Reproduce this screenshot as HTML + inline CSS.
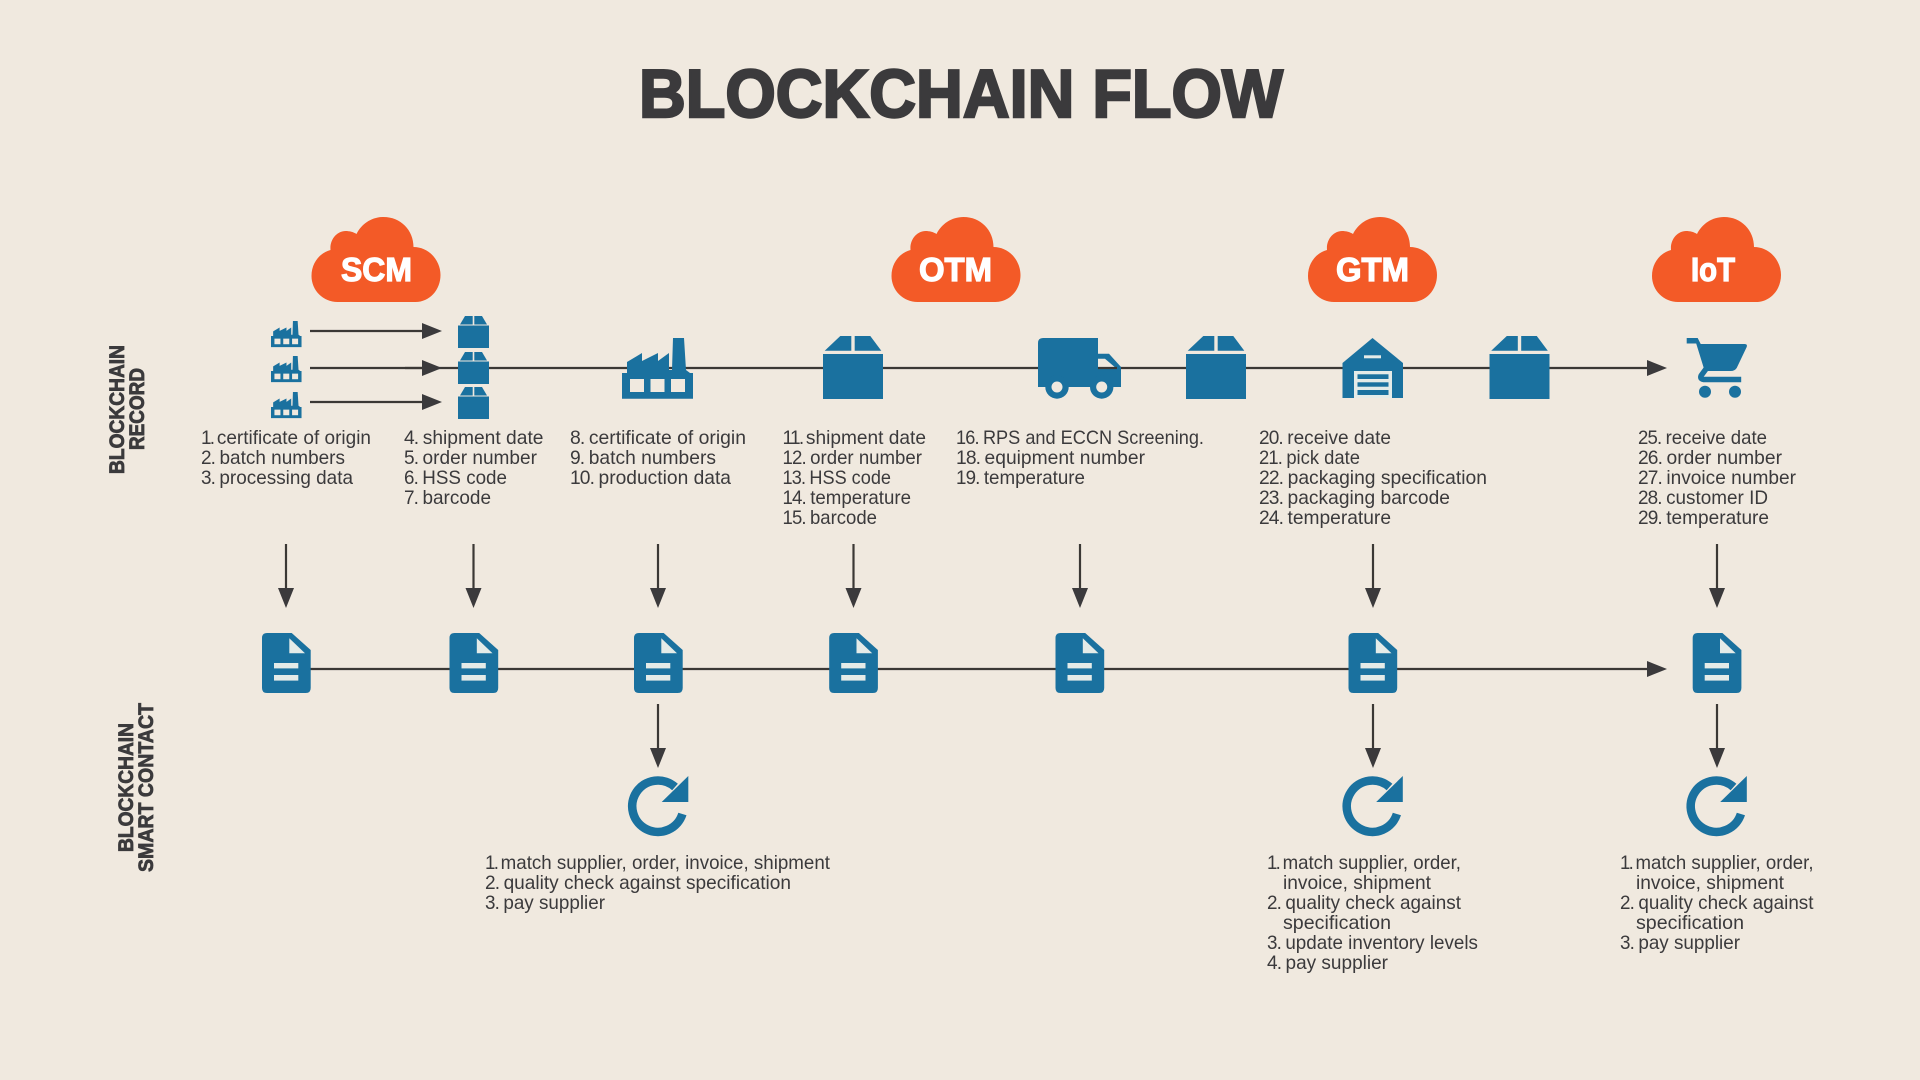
<!DOCTYPE html>
<html lang="en">
<head>
<meta charset="utf-8">
<title>Blockchain Flow</title>
<style>
html,body{margin:0;padding:0;background:#f0e9df;width:1920px;height:1080px;overflow:hidden}
svg{display:block}
text{font-family:"Liberation Sans",sans-serif}
.t text{font-size:19.5px;fill:#3b3a3c}
.n{letter-spacing:-.9px}
.o{letter-spacing:-1.8px}
.b{font-weight:700;fill:#3b3a3c;stroke:#3b3a3c}
.c{font-weight:700;font-size:33px;fill:#fff;stroke:#fff;stroke-width:1.2}
.ln{stroke:#3b3835;stroke-width:2.2;fill:none}
.ah{fill:#3b3a3c}
</style>
</head>
<body>
<svg xmlns="http://www.w3.org/2000/svg" width="1920" height="1080" viewBox="0 0 1920 1080">
<defs>
<path id="cloud" fill="#f35a27" d="M26,85 A26,26 0 0 1 0,59 C0,46 8,36 19,33 C18,22 26,14 34,14 C38,14 42,15 45,17 C50,7 60,0 72,0 C89,0 102,13 102,30 C118,30 129,44 129,58 C129,73 118,85 104,85 Z"/>
<g id="box" fill="#1a719f">
  <polygon points="1.7,14.7 17.3,0 28.3,0 28.3,14.7"/>
  <polygon points="31.7,14.7 31.7,0 47.3,0 58.3,14.7"/>
  <rect x="0" y="18" width="60" height="45"/>
</g>
<g id="sbox" fill="#1a719f">
  <polygon points="2,8.5 7,0 14.7,0 14.7,8.5"/>
  <polygon points="16.3,8.5 16.3,0 24,0 29,8.5"/>
  <rect x="0" y="9.5" width="31" height="22.5"/>
</g>
<g id="factory">
  <path fill="#1a719f" d="M0,35 L5,35 L5,24 L20,15 L20,23 L36,15 L36,23 L47,15 L47,32 L50,32 L51,0 L62,0 L64,32 L68,35 L71,35 L71,60.7 L0,60.7Z"/>
  <g fill="#f0e9df"><rect x="8" y="41" width="14" height="13"/><rect x="28.5" y="41" width="14" height="13"/><rect x="49" y="41" width="14" height="13"/></g>
</g>
<g id="doc">
  <path fill="#1a719f" d="M5,0 L29.7,0 L48.7,17 L48.7,55 Q48.7,60 43.7,60 L5,60 Q0,60 0,55 L0,5 Q0,0 5,0Z"/>
  <polygon fill="#e4ebe8" points="27.3,5.3 27.3,20.3 43,20.3"/>
  <rect fill="#e4ebe8" x="12" y="30" width="24.3" height="5.4"/>
  <rect fill="#e4ebe8" x="12" y="42" width="24.3" height="5.6"/>
</g>
<g id="refresh">
  <path fill="none" stroke="#1a719f" stroke-width="8.6" d="M47,11 A25.7,25.7 0 1 0 54.4,38"/>
  <path fill="#1a719f" d="M60.3,0 L60.3,26 L33.7,26Z"/>
</g>
<g id="va"><line class="ln" x1="0" y1="0" x2="0" y2="46"/><polygon class="ah" points="-8,44 8,44 0,64"/></g>
<g id="ha"><polygon class="ah" points="0,-8 20,0 0,8"/></g>
</defs>

<rect width="1920" height="1080" fill="#f0e9df"/>

<text class="b" x="639" y="117" font-size="68" stroke-width="2.4" textLength="644" lengthAdjust="spacingAndGlyphs">BLOCKCHAIN FLOW</text>

<!-- side labels -->
<g class="b" font-size="21.5" stroke-width=".8">
  <text transform="translate(124,474) rotate(-90)" textLength="129" lengthAdjust="spacingAndGlyphs">BLOCKCHAIN</text>
  <text transform="translate(144,450) rotate(-90)" textLength="82" lengthAdjust="spacingAndGlyphs">RECORD</text>
  <text transform="translate(133,852) rotate(-90)" textLength="129" lengthAdjust="spacingAndGlyphs">BLOCKCHAIN</text>
  <text transform="translate(153,872) rotate(-90)" textLength="169" lengthAdjust="spacingAndGlyphs">SMART CONTACT</text>
</g>

<!-- clouds -->
<use href="#cloud" x="311.5" y="217"/>
<use href="#cloud" x="891.5" y="217"/>
<use href="#cloud" x="1308" y="217"/>
<use href="#cloud" x="1652" y="217"/>
<text class="c" x="341" y="281" textLength="71" lengthAdjust="spacingAndGlyphs">SCM</text>
<text class="c" x="919" y="281" textLength="73" lengthAdjust="spacingAndGlyphs">OTM</text>
<text class="c" x="1336" y="281" textLength="73" lengthAdjust="spacingAndGlyphs">GTM</text>
<text class="c" x="1691" y="281" textLength="44" lengthAdjust="spacingAndGlyphs">IoT</text>

<!-- lines -->
<line class="ln" x1="310" y1="331" x2="424" y2="331"/>
<line class="ln" x1="310" y1="368" x2="424" y2="368"/>
<line class="ln" x1="310" y1="402" x2="424" y2="402"/>
<use href="#ha" x="422" y="331"/>
<use href="#ha" x="422" y="402"/>
<line class="ln" x1="405" y1="368" x2="1650" y2="368"/>
<use href="#ha" x="422" y="368"/>
<use href="#ha" x="1647" y="368"/>
<line class="ln" x1="286" y1="669" x2="1650" y2="669"/>
<use href="#ha" x="1647" y="669"/>

<!-- small factories -->
<use href="#factory" transform="translate(271,321) scale(.43)"/>
<use href="#factory" transform="translate(271,356) scale(.43)"/>
<use href="#factory" transform="translate(271,392) scale(.43)"/>
<!-- small boxes -->
<use href="#sbox" x="458" y="316"/>
<use href="#sbox" x="458" y="352"/>
<use href="#sbox" x="458" y="387"/>
<!-- big icons -->
<use href="#factory" x="622" y="338"/>
<use href="#box" x="823" y="336"/>
<use href="#box" x="1186" y="336"/>
<use href="#box" x="1489.5" y="336"/>

<!-- truck -->
<g transform="translate(1038,338)">
  <path fill="#1a719f" d="M5,0 L60,0 L60,15.7 L71,15.7 L83,29 L83,49 L0,49 L0,5 Q0,0 5,0Z"/>
  <path fill="#f0e9df" d="M60,20.7 L67,20.7 L76.7,29 L60,29Z"/>
  <line class="ln" x1="60" y1="30" x2="79" y2="30"/>
  <circle cx="19" cy="49" r="11.7" fill="#1a719f"/><circle cx="19" cy="49" r="5.5" fill="#f0e9df"/>
  <circle cx="63.7" cy="49" r="11.7" fill="#1a719f"/><circle cx="63.7" cy="49" r="5.5" fill="#f0e9df"/>
</g>

<!-- warehouse -->
<g transform="translate(1342.5,338)">
  <polygon fill="#1a719f" points="30,0 60.5,25 60.5,60 0,60 0,25"/>
  <rect x="11.5" y="33" width="38" height="27" fill="#e4ebe8"/>
  <g fill="#1a719f"><rect x="15" y="36.3" width="31" height="4.7"/><rect x="15" y="44.3" width="31" height="4.4"/><rect x="15" y="52" width="31" height="5"/></g>
  <rect x="21.5" y="17.3" width="17" height="3" fill="#e4ebe8"/>
</g>

<!-- cart -->
<g transform="translate(1686.7,338)">
  <path fill="#1a719f" d="M0,0 L11,0 L14,6 L58,6 Q61,6 60,9 L50,30 Q48,33 44,33 L18,33 L9.5,5.5 L0,5.5Z"/>
  <path fill="none" stroke="#1a719f" stroke-width="5.5" d="M20,30 L14.5,37.5 Q13,41 17,41.5 L54.5,41.5"/>
  <circle cx="18.3" cy="53.7" r="6" fill="#1a719f"/><circle cx="48.3" cy="53.7" r="6" fill="#1a719f"/>
</g>

<!-- vertical arrows top -->
<use href="#va" x="286" y="544"/>
<use href="#va" x="473.5" y="544"/>
<use href="#va" x="658" y="544"/>
<use href="#va" x="853.5" y="544"/>
<use href="#va" x="1080" y="544"/>
<use href="#va" x="1373" y="544"/>
<use href="#va" x="1717" y="544"/>

<!-- documents -->
<use href="#doc" x="262" y="633"/>
<use href="#doc" x="449.5" y="633"/>
<use href="#doc" x="634" y="633"/>
<use href="#doc" x="829.2" y="633"/>
<use href="#doc" x="1055.5" y="633"/>
<use href="#doc" x="1348.5" y="633"/>
<use href="#doc" x="1692.7" y="633"/>

<!-- lower arrows -->
<use href="#va" x="658" y="704"/>
<use href="#va" x="1373" y="704"/>
<use href="#va" x="1717" y="704"/>

<!-- refresh -->
<use href="#refresh" x="628" y="776"/>
<use href="#refresh" x="1342.5" y="776"/>
<use href="#refresh" x="1686.5" y="776"/>

<!-- text blocks -->
<g class="t">
  <text x="201" y="444" textLength="170" lengthAdjust="spacingAndGlyphs"><tspan class="o">1. </tspan>certificate of origin</text>
  <text x="201" y="464" textLength="144" lengthAdjust="spacingAndGlyphs"><tspan class="n">2. </tspan>batch numbers</text>
  <text x="201" y="484" textLength="152" lengthAdjust="spacingAndGlyphs"><tspan class="n">3. </tspan>processing data</text>

  <text x="404" y="444" textLength="139.5" lengthAdjust="spacingAndGlyphs"><tspan class="n">4. </tspan>shipment date</text>
  <text x="404" y="464" textLength="133" lengthAdjust="spacingAndGlyphs"><tspan class="n">5. </tspan>order number</text>
  <text x="404" y="484" textLength="103" lengthAdjust="spacingAndGlyphs"><tspan class="n">6. </tspan>HSS code</text>
  <text x="404" y="504" textLength="87" lengthAdjust="spacingAndGlyphs"><tspan class="n">7. </tspan>barcode</text>

  <text x="570" y="444" textLength="176" lengthAdjust="spacingAndGlyphs"><tspan class="n">8. </tspan>certificate of origin</text>
  <text x="570" y="464" textLength="146" lengthAdjust="spacingAndGlyphs"><tspan class="n">9. </tspan>batch numbers</text>
  <text x="570" y="484" textLength="161" lengthAdjust="spacingAndGlyphs"><tspan class="n">10. </tspan>production data</text>

  <text x="782.5" y="444" textLength="143.5" lengthAdjust="spacingAndGlyphs"><tspan class="o">11. </tspan>shipment date</text>
  <text x="782.5" y="464" textLength="139.5" lengthAdjust="spacingAndGlyphs"><tspan class="n">12. </tspan>order number</text>
  <text x="782.5" y="484" textLength="108.5" lengthAdjust="spacingAndGlyphs"><tspan class="n">13. </tspan>HSS code</text>
  <text x="782.5" y="504" textLength="128.5" lengthAdjust="spacingAndGlyphs"><tspan class="n">14. </tspan>temperature</text>
  <text x="782.5" y="524" textLength="94.5" lengthAdjust="spacingAndGlyphs"><tspan class="n">15. </tspan>barcode</text>

  <text x="956" y="444" textLength="248" lengthAdjust="spacingAndGlyphs"><tspan class="n">16. </tspan>RPS and ECCN Screening.</text>
  <text x="956" y="464" textLength="189" lengthAdjust="spacingAndGlyphs"><tspan class="n">18. </tspan>equipment number</text>
  <text x="956" y="484" textLength="129" lengthAdjust="spacingAndGlyphs"><tspan class="n">19. </tspan>temperature</text>

  <text x="1259" y="444" textLength="132" lengthAdjust="spacingAndGlyphs"><tspan class="n">20. </tspan>receive date</text>
  <text x="1259" y="464" textLength="101" lengthAdjust="spacingAndGlyphs"><tspan class="n">21. </tspan>pick date</text>
  <text x="1259" y="484" textLength="228" lengthAdjust="spacingAndGlyphs"><tspan class="n">22. </tspan>packaging specification</text>
  <text x="1259" y="504" textLength="191" lengthAdjust="spacingAndGlyphs"><tspan class="n">23. </tspan>packaging barcode</text>
  <text x="1259" y="524" textLength="132" lengthAdjust="spacingAndGlyphs"><tspan class="n">24. </tspan>temperature</text>

  <text x="1638" y="444" textLength="129" lengthAdjust="spacingAndGlyphs"><tspan class="n">25. </tspan>receive date</text>
  <text x="1638" y="464" textLength="144" lengthAdjust="spacingAndGlyphs"><tspan class="n">26. </tspan>order number</text>
  <text x="1638" y="484" textLength="158" lengthAdjust="spacingAndGlyphs"><tspan class="n">27. </tspan>invoice number</text>
  <text x="1638" y="504" textLength="130" lengthAdjust="spacingAndGlyphs"><tspan class="n">28. </tspan>customer ID</text>
  <text x="1638" y="524" textLength="131" lengthAdjust="spacingAndGlyphs"><tspan class="n">29. </tspan>temperature</text>

  <text x="485" y="869" textLength="345" lengthAdjust="spacingAndGlyphs"><tspan class="o">1. </tspan>match supplier, order, invoice, shipment</text>
  <text x="485" y="889" textLength="306" lengthAdjust="spacingAndGlyphs"><tspan class="n">2. </tspan>quality check against specification</text>
  <text x="485" y="909" textLength="120" lengthAdjust="spacingAndGlyphs"><tspan class="n">3. </tspan>pay supplier</text>

  <text x="1267" y="869" textLength="194" lengthAdjust="spacingAndGlyphs"><tspan class="o">1. </tspan>match supplier, order,</text>
  <text x="1283" y="889" textLength="148" lengthAdjust="spacingAndGlyphs">invoice, shipment</text>
  <text x="1267" y="909" textLength="194" lengthAdjust="spacingAndGlyphs"><tspan class="n">2. </tspan>quality check against</text>
  <text x="1283" y="929" textLength="108" lengthAdjust="spacingAndGlyphs">specification</text>
  <text x="1267" y="949" textLength="211" lengthAdjust="spacingAndGlyphs"><tspan class="n">3. </tspan>update inventory levels</text>
  <text x="1267" y="969" textLength="121" lengthAdjust="spacingAndGlyphs"><tspan class="n">4. </tspan>pay supplier</text>

  <text x="1620" y="869" textLength="193.5" lengthAdjust="spacingAndGlyphs"><tspan class="o">1. </tspan>match supplier, order,</text>
  <text x="1636" y="889" textLength="148" lengthAdjust="spacingAndGlyphs">invoice, shipment</text>
  <text x="1620" y="909" textLength="193.5" lengthAdjust="spacingAndGlyphs"><tspan class="n">2. </tspan>quality check against</text>
  <text x="1636" y="929" textLength="108" lengthAdjust="spacingAndGlyphs">specification</text>
  <text x="1620" y="949" textLength="120" lengthAdjust="spacingAndGlyphs"><tspan class="n">3. </tspan>pay supplier</text>
</g>
</svg>
</body>
</html>
